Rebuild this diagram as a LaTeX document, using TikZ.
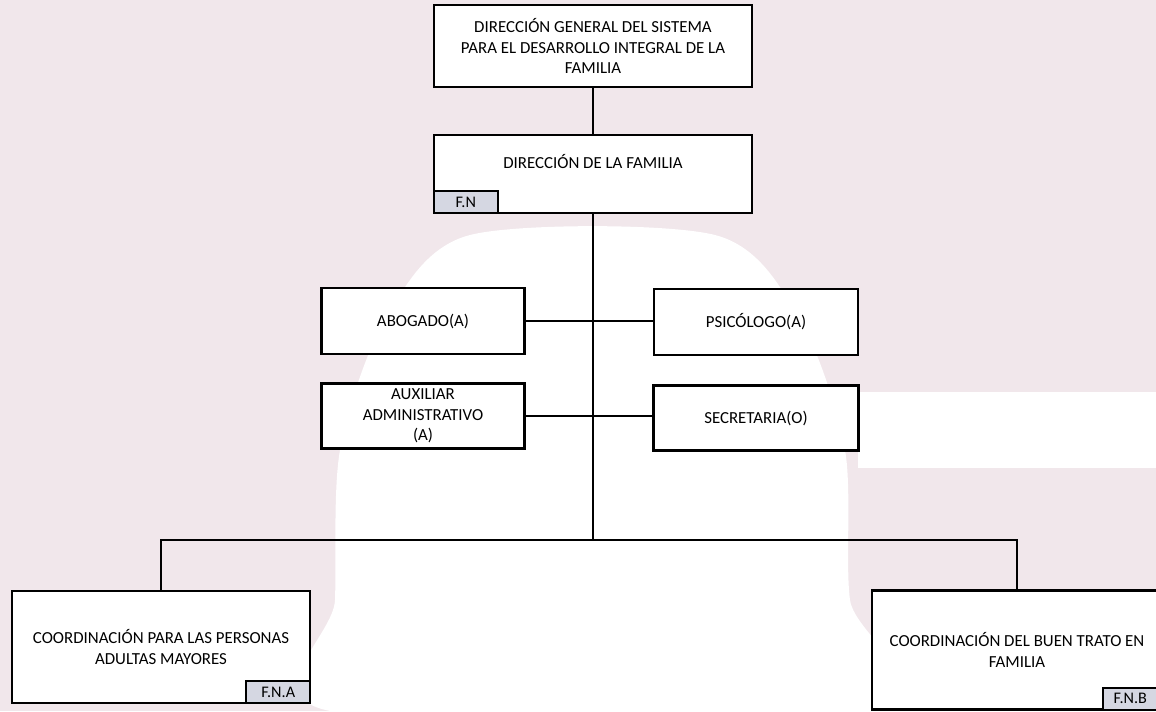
\documentclass[tikz,border=0pt]{standalone}
\usepackage{fontspec}
\setmainfont{Carlito}
\definecolor{ChartPaper}{HTML}{F1E7EB}
\definecolor{ChartTab}{HTML}{D5D7E2}

\begin{document}
\begin{tikzpicture}[x=.02cm,y=-.02cm,
  box/.style={draw,line width=1.5pt,fill=white,align=center,inner sep=2pt,
    font=\fontsize{9.6}{11.6}\selectfont},
  tab/.style={draw,line width=1.2pt,fill=ChartTab,inner sep=0pt,
    minimum height=.44cm,font=\fontsize{9.2}{10}\selectfont},
  link/.style={line width=1.2pt}]
  % paper and watermark
  \fill[ChartPaper] (0,0) rectangle (1156,711);
  \useasboundingbox (0,0) rectangle (1156,711);
  \fill[white] plot[smooth cycle] coordinates {(470,235) (715,235) (800,320) (845,450) (850,600) (880,711) (330,711) (335,600) (340,450) (385,320)};
  \fill[white] (858,392) rectangle (1156,468);

  \node[box,minimum width=6.36cm,minimum height=1.64cm] (dg) at (593,46) {DIRECCIÓN GENERAL DEL SISTEMA\\PARA EL DESARROLLO INTEGRAL DE LA\\FAMILIA};
  \node[box,minimum width=6.36cm,minimum height=1.56cm,text depth=14pt] (fam) at (593,174) {DIRECCIÓN DE LA FAMILIA};
  \node[tab,minimum width=1.28cm,anchor=south west] (fn) at (fam.south west) {F.N};

  \node[box,minimum width=4.06cm,minimum height=1.32cm] (abog) at (423,321) {ABOGADO(A)};
  \node[box,minimum width=4.08cm,minimum height=1.32cm] (psic) at (756,322) {PSICÓLOGO(A)};
  \node[box,minimum width=4.06cm,minimum height=1.3cm] (aux) at (423,416) {AUXILIAR\\ADMINISTRATIVO\\(A)};
  \node[box,minimum width=4.1cm,minimum height=1.3cm] (secr) at (756,418) {SECRETARIA(O)};

  \node[box,minimum width=5.96cm,minimum height=2.24cm] (adul) at (161,647) {COORDINACIÓN PARA LAS PERSONAS\\ADULTAS MAYORES};
  \node[tab,minimum width=1.28cm,anchor=south east] (fna) at (adul.south east) {F.N.A};
  \node[box,minimum width=5.8cm,minimum height=2.38cm] (trato) at (1017,650) {COORDINACIÓN DEL BUEN TRATO EN\\FAMILIA};
  \node[tab,minimum width=1.18cm,anchor=south east] (fnb) at (trato.south east) {F.N.B\hspace*{.1cm}};

  \coordinate (bar) at (fam.south |- 0,540);
  \draw[link] (dg) -- (fam);
  \draw[link] (fam.south) -- (bar);
  \draw[link] (abog.east) -- (abog.east -| psic.west);
  \draw[link] (aux.east) -- (aux.east -| secr.west);
  \draw[link] (adul.north) |- (bar) -| (trato.north);
\end{tikzpicture}
\end{document}
